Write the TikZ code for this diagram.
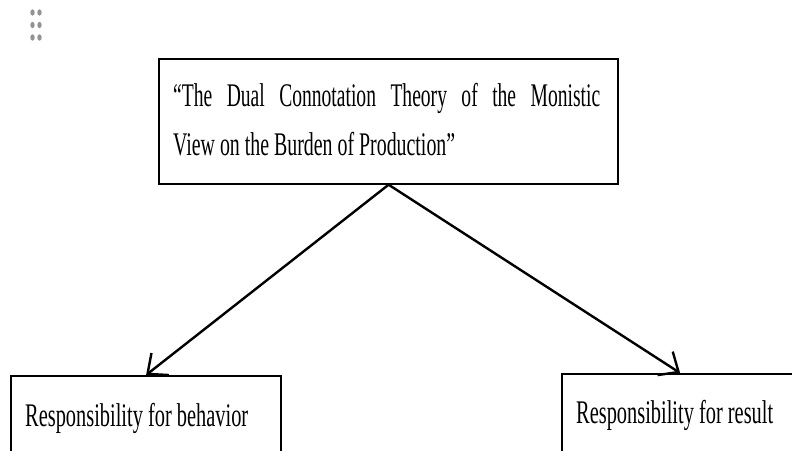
\documentclass[tikz,border=0pt]{standalone}
\usepackage{fontspec}
\setmainfont{Liberation Serif}
\usetikzlibrary{arrows.meta}
\newcommand{\bigtext}{\fontsize{33}{40}\selectfont}
\begin{document}
\begin{tikzpicture}[x=1pt,y=-1pt,
  box/.style={draw=black, line width=2.2pt, rectangle, inner sep=0pt, fill=white},
  lbl/.style={inner sep=0pt, anchor=base west, font=\bigtext},
  arr/.style={draw=black, line width=2.4pt, -{Straight Barb[length=16pt,width=28pt,line width=2.4pt]}},
  dot/.style={fill=gray!85}
]
\useasboundingbox (0,0) rectangle (792,450);
\clip (0,0) rectangle (792,450);
% grip dots
\foreach \xx in {32.5,39.5}{
  \foreach \yy in {12.5,25,37.5}{
    \fill[dot] (\xx,\yy) ellipse (2.2pt and 3.2pt);
  }
}
% boxes
\node[box, minimum width=459pt, minimum height=125pt, anchor=north west] (top) at (158,57.5) {};
\node[box, minimum width=270pt, minimum height=110pt, anchor=north west] (left) at (10,375) {};
\node[box, minimum width=236pt, minimum height=110pt, anchor=north west] (right) at (561,373) {};
% texts
\node[lbl] (t1) at (173,106) {\resizebox{427pt}{\height}{\hbox to 720pt{“The\hfill Dual\hfill Connotation\hfill Theory\hfill of\hfill the\hfill Monistic}}};
\node[lbl] (t2) at (173,155) {\resizebox{282pt}{\height}{View on the Burden of Production”}};
\node[lbl] (lt) at (25,426) {\resizebox{223pt}{\height}{Responsibility for behavior}};
\node[lbl] (rt) at (576,423) {\resizebox{197pt}{\height}{Responsibility for result}};
% connectors
\draw[arr] (top.south) -- (left.north);
\draw[arr] (top.south) -- (right.north);
\end{tikzpicture}
\end{document}
